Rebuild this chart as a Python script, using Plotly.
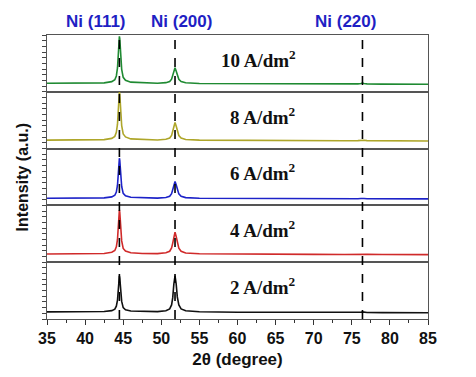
import plotly.graph_objects as go
from plotly.subplots import make_subplots

# 2-theta sampling positions (degrees)
two_theta = [35, 38, 41, 42.5, 43.5, 43.9, 44.1, 44.25, 44.35, 44.45, 44.5, 44.55, 44.65, 44.8,
             45.0, 45.3, 46, 47.5, 49.5, 50.6, 51.1, 51.35, 51.5, 51.65, 51.8, 51.95, 52.1, 52.3,
             52.6, 53.2, 55, 60, 65, 70, 74, 75.8, 76.2, 76.4, 76.6, 77, 79, 82, 85]

# normalised intensity, one list per current density (top panel first)
i_10 = [0.150, 0.148, 0.151, 0.158, 0.179, 0.212, 0.279, 0.420, 0.644, 0.935, 0.976, 0.935, 0.661, 0.395,
        0.254, 0.204, 0.170, 0.157, 0.150, 0.161, 0.180, 0.222, 0.284, 0.374, 0.424, 0.368, 0.290, 0.220,
        0.180, 0.158, 0.146, 0.142, 0.140, 0.138, 0.137, 0.139, 0.145, 0.155, 0.145, 0.139, 0.136, 0.135, 0.134]
i_8 = [0.150, 0.148, 0.151, 0.158, 0.180, 0.215, 0.285, 0.430, 0.660, 0.960, 1.000, 0.960, 0.680, 0.405,
       0.258, 0.206, 0.171, 0.158, 0.151, 0.164, 0.186, 0.233, 0.303, 0.403, 0.460, 0.397, 0.309, 0.230,
       0.186, 0.161, 0.149, 0.143, 0.141, 0.139, 0.138, 0.140, 0.146, 0.156, 0.146, 0.140, 0.137, 0.136, 0.135]
i_6 = [0.125, 0.124, 0.126, 0.132, 0.150, 0.178, 0.235, 0.355, 0.545, 0.795, 0.830, 0.795, 0.560, 0.333,
       0.213, 0.170, 0.143, 0.132, 0.128, 0.140, 0.161, 0.206, 0.272, 0.368, 0.420, 0.362, 0.278, 0.203,
       0.161, 0.137, 0.126, 0.121, 0.119, 0.118, 0.117, 0.118, 0.122, 0.128, 0.122, 0.118, 0.116, 0.115, 0.115]
i_4 = [0.145, 0.144, 0.147, 0.154, 0.175, 0.205, 0.270, 0.400, 0.610, 0.880, 0.920, 0.880, 0.625, 0.375,
       0.243, 0.195, 0.165, 0.153, 0.151, 0.166, 0.193, 0.251, 0.337, 0.460, 0.530, 0.453, 0.344, 0.247,
       0.193, 0.162, 0.148, 0.141, 0.139, 0.137, 0.136, 0.137, 0.141, 0.147, 0.141, 0.137, 0.135, 0.134, 0.134]
i_2 = [0.125, 0.124, 0.126, 0.131, 0.147, 0.172, 0.225, 0.330, 0.505, 0.720, 0.760, 0.720, 0.515, 0.310,
       0.200, 0.163, 0.142, 0.133, 0.130, 0.146, 0.178, 0.248, 0.376, 0.619, 0.760, 0.619, 0.389, 0.248,
       0.178, 0.146, 0.127, 0.120, 0.117, 0.115, 0.113, 0.114, 0.118, 0.125, 0.118, 0.114, 0.112, 0.110, 0.110]

series = [i_10, i_8, i_6, i_4, i_2]
labels = ["10 A/dm<sup>2</sup>", "8 A/dm<sup>2</sup>", "6 A/dm<sup>2</sup>",
          "4 A/dm<sup>2</sup>", "2 A/dm<sup>2</sup>"]
colors = ["#1f8a32", "#aea62a", "#1c22c8", "#d02a2a", "#111111"]

peak_pos = [44.5, 51.8, 76.4]
peak_names = ["Ni (111)", "Ni (200)", "Ni (220)"]
peak_label_x = [41.4, 52.6, 74.2]

fig = make_subplots(rows=5, cols=1, shared_xaxes=True, vertical_spacing=0)

for i, (y, lab, col) in enumerate(zip(series, labels, colors)):
    r = i + 1
    sfx = "" if r == 1 else str(r)
    fig.add_trace(go.Scatter(x=two_theta, y=y, mode="lines", line=dict(color=col, width=1.6),
                             showlegend=False, hoverinfo="skip"), row=r, col=1)
    fig.add_annotation(x=67.9, y=0.58, xref=f"x{sfx}", yref=f"y{sfx} domain",
                       text=f"<b>{lab}</b>", showarrow=False, xanchor="right",
                       font=dict(family="Liberation Serif", size=19, color="#111"))
    fig.update_yaxes(range=[0, 1], showticklabels=False, ticks="outside", ticklen=4, dtick=0.1,
                     tickcolor="#444", showline=True, linecolor="#555", linewidth=1.2, mirror=True,
                     showgrid=False, zeroline=False, row=r, col=1)
    fig.update_xaxes(range=[35, 85], showline=True, linecolor="#555", linewidth=1.2, mirror=True,
                     showgrid=False, zeroline=False, ticks="", showticklabels=False, row=r, col=1)

fig.update_xaxes(ticks="outside", ticklen=5, tickwidth=1.2, tickcolor="#333", dtick=5,
                 showticklabels=True, tickfont=dict(family="Liberation Sans", size=16, color="#111", weight="bold"),
                 minor=dict(ticks="outside", ticklen=3, dtick=2.5, tickcolor="#333"),
                 title=dict(text="<b>2θ (degree)</b>", standoff=6,
                            font=dict(family="Liberation Sans", size=17, color="#111")),
                 row=5, col=1)

for p in peak_pos:
    fig.add_shape(type="line", x0=p, x1=p, y0=0, y1=1, xref="x", yref="paper",
                  line=dict(color="black", width=1.6, dash="dash"))

for name, lx in zip(peak_names, peak_label_x):
    fig.add_annotation(x=lx, y=1.0, xref="x", yref="paper", yshift=14, text=f"<b>{name}</b>",
                       showarrow=False, yanchor="middle",
                       font=dict(family="Liberation Sans", size=17, color="#1f1fc4"))

fig.add_annotation(x=-0.037, y=0.5, xref="paper", yref="paper", text="<b>Intensity (a.u.)</b>",
                   textangle=-90, showarrow=False, xanchor="right",
                   font=dict(family="Liberation Sans", size=16, color="#111"))

fig.update_layout(width=476, height=377, margin=dict(l=47, r=48, t=35, b=48),
                  paper_bgcolor="white", plot_bgcolor="white", hovermode=False)

# drop the default page margin so the figure sits at the window's corner
fig.write_html("out.html", config={"displayModeBar": False},
               post_script="document.body.style.margin='0';")
